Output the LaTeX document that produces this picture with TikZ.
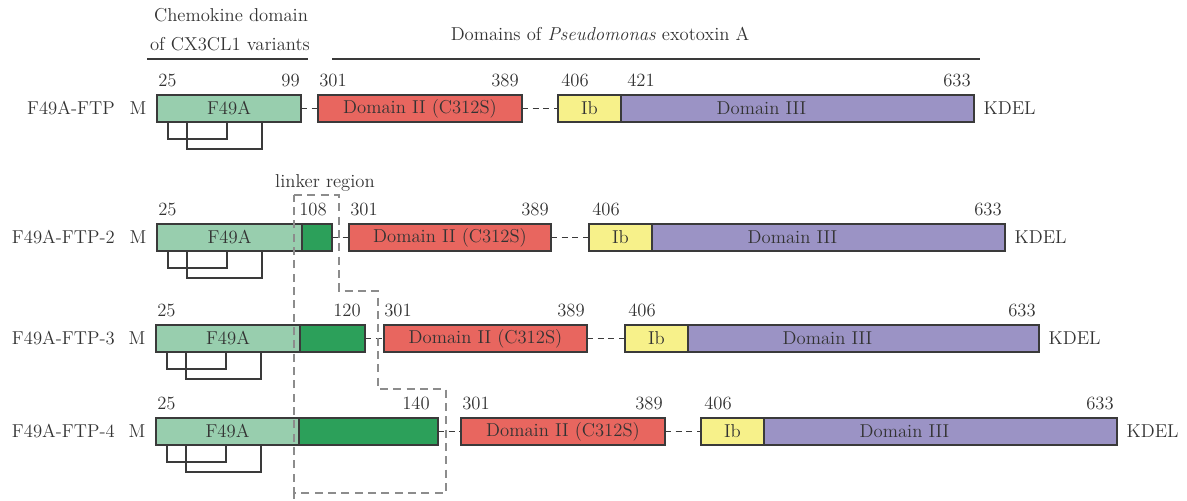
\documentclass[tikz,border=0pt]{standalone}
\definecolor{lgreen}{HTML}{98CEAE}
\definecolor{dgreen}{HTML}{2CA05A}
\definecolor{dred}{HTML}{E8665F}
\definecolor{dyel}{HTML}{F7F18A}
\definecolor{dpurp}{HTML}{9B93C5}
\definecolor{linec}{HTML}{3A3A3A}
\definecolor{txtc}{HTML}{333333}
\definecolor{linkc}{HTML}{8C8C8C}
\newcommand\pxu{0.75pt}
\newcommand\bridges[2]{% #1 left x of F49A box, #2 bottom y
  \draw[bridge] (#1+11,#2) -- (#1+11,#2+17) -- (#1+70,#2+17) -- (#1+70,#2);
  \draw[bridge] (#1+30,#2) -- (#1+30,#2+27) -- (#1+105,#2+27) -- (#1+105,#2);
}
\begin{document}
\begin{tikzpicture}[x=0.75pt,y=-0.75pt,
  font=\fontsize{14}{16}\selectfont,
  every node/.style={text=txtc},
  box/.style={draw=linec, line width=1.1pt, inner sep=0pt, outer sep=0pt,
    minimum height=27*\pxu, anchor=north west},
  num/.style={inner sep=0pt},
  lab/.style={inner sep=0pt},
  conn/.style={draw=linec, line width=1.1pt, dash pattern=on 4.5pt off 3.5pt},
  bridge/.style={draw=linec, line width=1.4pt},
  linker/.style={draw=linkc, line width=1pt, dash pattern=on 6pt off 4pt},
  rule/.style={draw=linec, line width=1pt}]
\useasboundingbox (0,0) rectangle (1187,500);

% headers
\node[lab, anchor=base] (h1) at (231,21) {Chemokine domain};
\node[lab, anchor=base] (h2) at (230,50) {of CX3CL1 variants};
\node[lab, anchor=base] (h3) at (600,40) {Domains of \textit{Pseudomonas} exotoxin A};
\draw[rule] (147,59) -- (308,59);
\draw[rule] (332,59) -- (980,59);

% ---------- row 1 ----------
\node[lab, anchor=east] (n1) at (115,108.5) {F49A-FTP};
\node[lab] (m1) at (138,108.5) {M};
\node[box, fill=lgreen, minimum width=144*\pxu] (a1) at (157,95) {F49A};
\node[box, fill=dred, minimum width=204*\pxu] (b1) at (318,95) {Domain II (C312S)};
\node[box, fill=dyel, minimum width=63*\pxu] (c1) at (558,95) {Ib};
\node[box, fill=dpurp, minimum width=353*\pxu] (d1) at (621,95) {};
\node[lab] (d1l) at ([xshift=-27pt]d1.center) {Domain III};
\node[lab, anchor=west] (k1) at ([xshift=7pt]d1.east) {KDEL};
\draw[conn] (a1.east) -- (b1.west);
\draw[conn] (b1.east) -- (c1.west);
\bridges{157}{122}
\node[num, anchor=base west] (p1a) at (158,86) {25};
\node[num, anchor=base east] (p1b) at (300,86) {99};
\node[num, anchor=base west] (p1c) at (319,86) {301};
\node[num, anchor=base east] (p1d) at (519,86) {389};
\node[num, anchor=base west] (p1e) at (561,86) {406};
\node[num, anchor=base west] (p1f) at (627,86) {421};
\node[num, anchor=base east] (p1g) at (971,86) {633};

% ---------- row 2 ----------
\node[lab, anchor=east] (n2) at (115,237.5) {F49A-FTP-2};
\node[lab] (m2) at (138,237.5) {M};
\node[box, fill=lgreen, minimum width=145*\pxu] (a2) at (157,224) {F49A};
\node[box, fill=dgreen, minimum width=30*\pxu] (e2) at (302,224) {};
\node[box, fill=dred, minimum width=202*\pxu] (b2) at (349,224) {Domain II (C312S)};
\node[box, fill=dyel, minimum width=63*\pxu] (c2) at (589,224) {Ib};
\node[box, fill=dpurp, minimum width=353*\pxu] (d2) at (652,224) {};
\node[lab] (d2l) at ([xshift=-27pt]d2.center) {Domain III};
\node[lab, anchor=west] (k2) at ([xshift=7pt]d2.east) {KDEL};
\draw[conn] (e2.east) -- (b2.west);
\draw[conn] (b2.east) -- (c2.west);
\bridges{157}{251}
\node[num, anchor=base west] (p2a) at (158,215) {25};
\node[num, anchor=base west] (p2b) at (299,215) {108};
\node[num, anchor=base west] (p2c) at (350,215) {301};
\node[num, anchor=base east] (p2d) at (549,215) {389};
\node[num, anchor=base west] (p2e) at (592,215) {406};
\node[num, anchor=base east] (p2g) at (1002,215) {633};

% ---------- row 3 ----------
\node[lab, anchor=east] (n3) at (115,338.5) {F49A-FTP-3};
\node[lab] (m3) at (137,338.5) {M};
\node[box, fill=lgreen, minimum width=144*\pxu] (a3) at (156,325) {F49A};
\node[box, fill=dgreen, minimum width=65*\pxu] (e3) at (300,325) {};
\node[box, fill=dred, minimum width=203*\pxu] (b3) at (384,325) {Domain II (C312S)};
\node[box, fill=dyel, minimum width=63*\pxu] (c3) at (625,325) {Ib};
\node[box, fill=dpurp, minimum width=351*\pxu] (d3) at (688,325) {};
\node[lab] (d3l) at ([xshift=-27pt]d3.center) {Domain III};
\node[lab, anchor=west] (k3) at ([xshift=7pt]d3.east) {KDEL};
\draw[conn] (e3.east) -- (b3.west);
\draw[conn] (b3.east) -- (c3.west);
\bridges{156}{352}
\node[num, anchor=base west] (p3a) at (157,316) {25};
\node[num, anchor=base east] (p3b) at (361,316) {120};
\node[num, anchor=base west] (p3c) at (384,316) {301};
\node[num, anchor=base east] (p3d) at (585,316) {389};
\node[num, anchor=base west] (p3e) at (628,316) {406};
\node[num, anchor=base east] (p3g) at (1036,316) {633};

% ---------- row 4 ----------
\node[lab, anchor=east] (n4) at (115,431.5) {F49A-FTP-4};
\node[lab] (m4) at (137,431.5) {M};
\node[box, fill=lgreen, minimum width=143*\pxu] (a4) at (156,418) {F49A};
\node[box, fill=dgreen, minimum width=139*\pxu] (e4) at (299,418) {};
\node[box, fill=dred, minimum width=204*\pxu] (b4) at (461,418) {Domain II (C312S)};
\node[box, fill=dyel, minimum width=63*\pxu] (c4) at (701,418) {Ib};
\node[box, fill=dpurp, minimum width=353*\pxu] (d4) at (764,418) {};
\node[lab] (d4l) at ([xshift=-27pt]d4.center) {Domain III};
\node[lab, anchor=west] (k4) at ([xshift=7pt]d4.east) {KDEL};
\draw[conn] (e4.east) -- (b4.west);
\draw[conn] (b4.east) -- (c4.west);
\bridges{156}{445}
\node[num, anchor=base west] (p4a) at (157,409) {25};
\node[num, anchor=base east] (p4b) at (430,409) {140};
\node[num, anchor=base west] (p4c) at (462,409) {301};
\node[num, anchor=base east] (p4d) at (663,409) {389};
\node[num, anchor=base west] (p4e) at (704,409) {406};
\node[num, anchor=base east] (p4g) at (1114,409) {633};

% ---------- linker region ----------
\node[lab, anchor=base] (lr) at (325,187) {linker region};
\draw[linker] (294,195) -- (339,195) -- (339,291) -- (378,291) -- (378,389)
  -- (446,389) -- (446,493) -- (294,493) -- cycle;
\draw[linker] (294,493) -- (294,499);
\end{tikzpicture}
\end{document}
